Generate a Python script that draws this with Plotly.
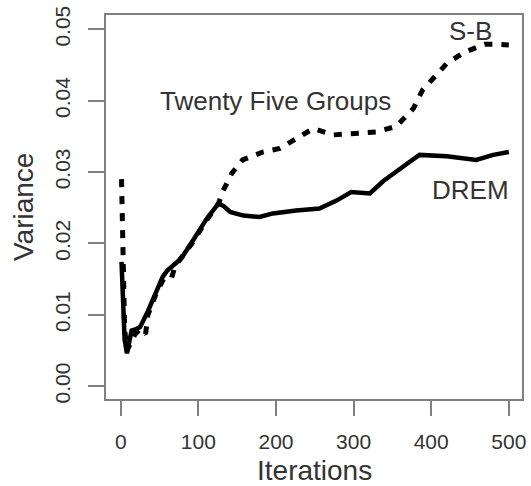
import plotly.graph_objects as go

# DREM (solid line)
drem_x = [1, 3, 5, 8, 11, 14, 20, 25, 35, 45, 54, 60, 65, 78, 93, 111, 126, 133, 141, 158,
          179, 196, 226, 256, 278, 297, 321, 338, 372, 385, 420, 458, 480, 500]
drem_y = [0.0174, 0.0100, 0.0065, 0.0046, 0.0060, 0.0078, 0.0080, 0.0083, 0.0105, 0.0130,
          0.0153, 0.0162, 0.0167, 0.0179, 0.0204, 0.0235, 0.0256, 0.0252, 0.0244, 0.0239,
          0.0237, 0.0242, 0.0246, 0.0249, 0.0260, 0.0272, 0.0270, 0.0287, 0.0314, 0.0324,
          0.0322, 0.0317, 0.0324, 0.0328]

# S-B / Twenty Five Groups (dashed line)
sb_x = [1, 2.5, 5, 8, 12, 18, 25, 32, 35, 45, 55, 65, 70, 78, 93, 111, 126, 132, 143,
        157, 183, 205, 227, 248, 274, 304, 329, 355, 368, 377, 389, 402, 420, 443, 469, 485, 500]
sb_y = [0.0290, 0.0170, 0.0080, 0.0050, 0.0058, 0.0072, 0.0080, 0.0073, 0.0100, 0.0128,
        0.0150, 0.0150, 0.0168, 0.0179, 0.0202, 0.0233, 0.0256, 0.0274, 0.0298,
        0.0317, 0.0328, 0.0333, 0.0347, 0.0361, 0.0352, 0.0354, 0.0356, 0.0364, 0.0380,
        0.0389, 0.0415, 0.0431, 0.0452, 0.0468, 0.0479, 0.0479, 0.0478]

x_ticks = [0, 100, 200, 300, 400, 500]
y_ticks = [0.00, 0.01, 0.02, 0.03, 0.04, 0.05]

labels = ["S-B", "Twenty Five Groups", "DREM"]
label_x = [450, 200, 450]
label_y = [0.0497, 0.0400, 0.0275]

FONT = "Liberation Sans, Arial, sans-serif"
TXT = "#333333"
AX = "#808080"

W, H = 531, 486
L, T = 106, 15
R = W - 522
B = H - 399

fig = go.Figure()
fig.add_trace(go.Scatter(x=sb_x, y=sb_y, mode="lines",
                         line=dict(color="black", width=5, dash="8px,9px"),
                         showlegend=False, hoverinfo="skip"))
fig.add_trace(go.Scatter(x=drem_x, y=drem_y, mode="lines",
                         line=dict(color="black", width=4.5),
                         showlegend=False, hoverinfo="skip"))

for t, xx, yy in zip(labels, label_x, label_y):
    fig.add_annotation(x=xx, y=yy, text=t, showarrow=False,
                       xanchor="center", yanchor="middle",
                       font=dict(family=FONT, size=26, color=TXT))

# axis titles as paper annotations for exact placement
pw, ph = W - L - R, H - T - B
fig.add_annotation(xref="paper", yref="paper",
                   x=(314 - L) / pw, y=(H - B - 470) / ph,
                   text="Iterations", showarrow=False, borderpad=0,
                   xanchor="center", yanchor="middle",
                   font=dict(family=FONT, size=28, color=TXT))
fig.add_annotation(xref="paper", yref="paper",
                   x=(23 - L) / pw, y=(H - B - 207) / ph,
                   text="Variance", showarrow=False, textangle=-90,
                   xanchor="center", yanchor="middle",
                   font=dict(family=FONT, size=28, color=TXT))

fig.update_layout(
    width=W, height=H,
    margin=dict(l=L, r=R, t=T, b=B, autoexpand=False),
    paper_bgcolor="white", plot_bgcolor="white",
    font=dict(family=FONT, color=TXT),
)
fig.update_xaxes(
    range=[-19, 517], tickvals=x_ticks, ticktext=[str(v) for v in x_ticks],
    automargin=False, ticklabeloverflow="allow",
    showgrid=False, zeroline=False, showline=True, mirror=True,
    linecolor=AX, linewidth=2, ticks="outside", ticklen=15, tickwidth=2, tickcolor=AX,
    tickfont=dict(family=FONT, size=21, color=TXT), ticklabelstandoff=8,
)
fig.update_yaxes(
    range=[-0.0018, 0.052], tickvals=y_ticks, ticktext=["%.2f" % v for v in y_ticks],
    tickangle=-90, automargin=False, ticklabeloverflow="allow",
    showgrid=False, zeroline=False, showline=True, mirror=True,
    linecolor=AX, linewidth=2, ticks="outside", ticklen=16, tickwidth=2, tickcolor=AX,
    tickfont=dict(family=FONT, size=21, color=TXT), ticklabelstandoff=10,
)

fig.write_html("out.html",
               config={"displayModeBar": False, "staticPlot": True},
               post_script="document.body.style.margin='0';"
                           "document.body.style.overflow='hidden';")
